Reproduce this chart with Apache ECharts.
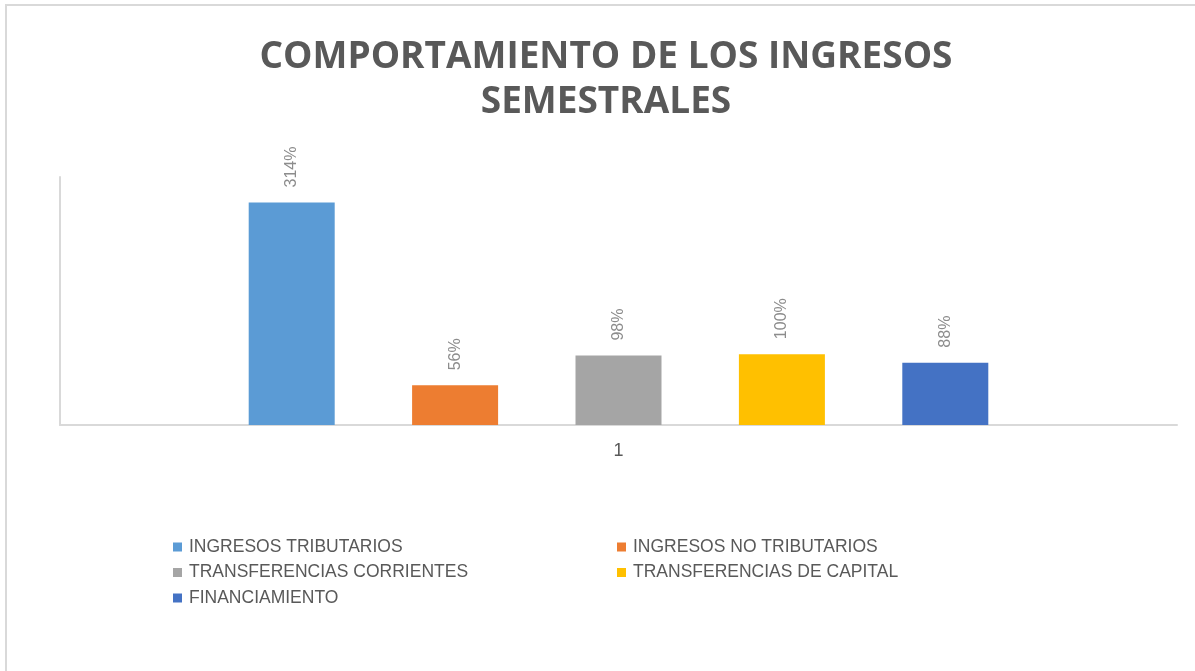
<!DOCTYPE html>
<html><head><meta charset="utf-8">
<script src="https://cdn.jsdelivr.net/npm/echarts@6/dist/echarts.min.js"></script>
<style>html,body{margin:0;padding:0;background:#fff}#c{width:1195px;height:671px}</style>
</head><body><div id="c"></div>
<script>
const categories = ['1'];
const seriesNames = ['INGRESOS TRIBUTARIOS','INGRESOS NO TRIBUTARIOS','TRANSFERENCIAS CORRIENTES','TRANSFERENCIAS DE CAPITAL','FINANCIAMIENTO'];
const seriesValues = [3.14, 0.56, 0.98, 1.00, 0.88];
const colors = ['#5B9BD5','#ED7D31','#A5A5A5','#FFC000','#4472C4'];

const chart = echarts.init(document.getElementById('c'));
const series = seriesNames.map((n,i)=>({
  name:n, type:'bar', data:[seriesValues[i]], barWidth:86, barGap:'90%',
  itemStyle:{color:colors[i]},
  label:{show:true, position:'top', rotate:90, align:'left', verticalAlign:'middle', distance:15,
    color:'#8c8c8c', fontFamily:'Liberation Sans', fontSize:16,
    formatter:p=>Math.round(p.value*100)+'%'}
}));
const legendPos = [[173,538],[617,538],[173,563.5],[617,563.5],[173,589]];
const legends = seriesNames.map((n,i)=>({
  data:[n], left:legendPos[i][0], top:legendPos[i][1], itemWidth:9, itemHeight:9, padding:0,
  icon:'rect', textStyle:{color:'#595959', fontSize:17.5, fontFamily:'Liberation Sans', padding:[0,0,0,2]}
}));
chart.setOption({
  animation:false,
  title:{text:'COMPORTAMIENTO DE LOS INGRESOS\nSEMESTRALES', left:601, textAlign:'center', top:30,
    textStyle:{color:'#595959', fontSize:37, fontWeight:'bold', fontFamily:'Open Sans', lineHeight:45}},
  graphic:[
    {type:'line', shape:{x1:5,y1:5,x2:1195,y2:5}, style:{stroke:'#d9d9d9', lineWidth:2}},
    {type:'line', shape:{x1:6,y1:5,x2:6,y2:671}, style:{stroke:'#d9d9d9', lineWidth:2}}
  ],
  legend:legends,
  grid:{left:60, right:18, top:177, bottom:246, containLabel:false},
  xAxis:{type:'category', data:categories, axisLine:{lineStyle:{color:'#d9d9d9', width:2}}, axisTick:{show:false},
    axisLabel:{color:'#595959', fontSize:18, fontFamily:'Liberation Sans', margin:17}},
  yAxis:{type:'value', min:0, max:3.5, interval:0.5, splitLine:{show:false},
    axisLine:{show:true, lineStyle:{color:'#d9d9d9', width:2}}, axisLabel:{show:false}, axisTick:{show:false}},
  series:series
});
</script></body></html>
